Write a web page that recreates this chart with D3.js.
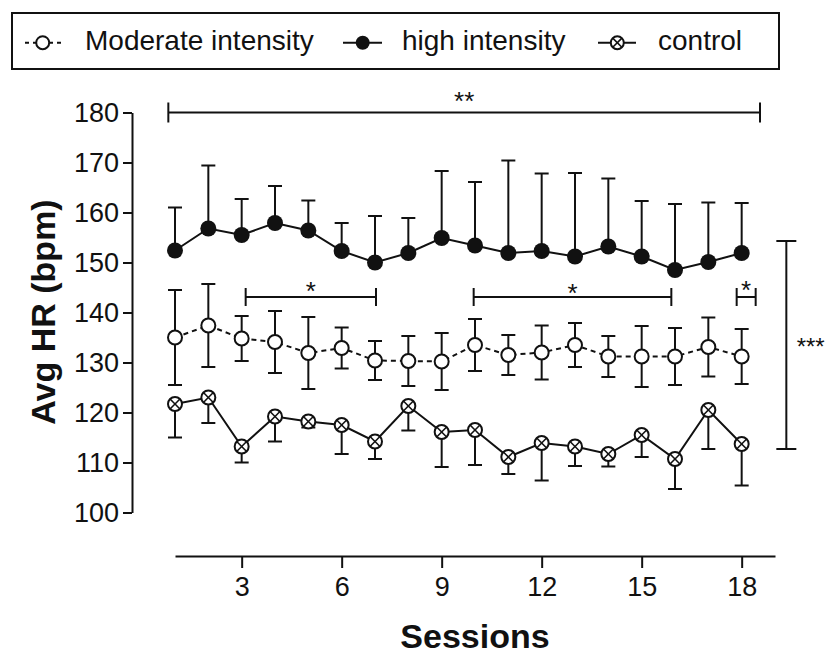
<!DOCTYPE html>
<html><head><meta charset="utf-8">
<script src="https://cdn.jsdelivr.net/npm/d3@7"></script>
<style>
html,body{margin:0;padding:0;background:#fff;}
svg{display:block;}
text{font-family:"Liberation Sans",Arial,sans-serif;fill:#111;}
</style></head><body>
<svg id="chart" width="826" height="655"></svg>
<script>
// ---------- data ----------
const sessions = [1,2,3,4,5,6,7,8,9,10,11,12,13,14,15,16,17,18];
const seriesNames = ["Moderate intensity", "high intensity", "control"];
const highMean = [152.4,156.8,155.5,157.9,156.4,152.3,150.0,151.9,154.9,153.4,151.9,152.3,151.2,153.2,151.2,148.5,150.1,151.9];
const highSD   = [8.6,12.6,7.2,7.4,6.0,5.6,9.3,7.0,13.4,12.7,18.5,15.5,16.7,13.6,11.1,13.2,11.9,10.0];
const modMean  = [135.0,137.4,134.8,134.1,131.9,132.9,130.4,130.3,130.2,133.5,131.5,132.0,133.5,131.2,131.2,131.2,133.1,131.2];
const modSD    = [9.5,8.3,4.5,6.2,7.2,4.1,3.9,5.0,5.7,5.2,4.0,5.4,4.4,4.1,6.1,5.7,5.9,5.5];
const ctrlMean = [121.7,123.0,113.2,119.2,118.2,117.5,114.2,121.3,116.1,116.5,111.1,113.9,113.2,111.7,115.5,110.7,120.5,113.7];
const ctrlSD   = [6.7,5.1,3.2,5.0,1.2,5.8,3.5,4.9,7.0,7.0,3.4,7.5,3.9,2.5,4.4,6.0,7.8,8.3];
const yTicks = [100,110,120,130,140,150,160,170,180];
const yMinorTicks = [102.5,105,107.5,112.5,115,117.5,122.5,125,127.5,132.5,135,137.5,142.5,145,147.5,152.5,155,157.5,162.5,165,167.5,172.5,175,177.5];
const xTicks = [3,6,9,12,15,18];
const xMinorTicks = [2,4,5,7,8,10,11,13,14,16,17,19];
const xDomain = [1,19];
const yDomain = [100,180];
// significance brackets (data units)
const hBrackets = [
  {from:0.8,  to:18.55, at:180,   label:"**", labelAt:183.5},
  {from:3.12, to:7.03,  at:143.1, label:"*",  labelAt:145.4},
  {from:9.96, to:15.89, at:143.1, label:"*",  labelAt:145.0},
  {from:17.85,to:18.42, at:143.1, label:"*",  labelAt:145.7}
];
const vBrackets = [
  {at:19.34, from:112.7, to:154.3, label:"***", labelX:19.65, labelAt:134.3}
];

// ---------- drawing ----------
const INK = "#111";
const svg = d3.select("#chart");
svg.append("rect").attr("width",826).attr("height",655).attr("fill","#fff");

const x = d3.scaleLinear().domain(xDomain).range([175,775]);
const y = d3.scaleLinear().domain(yDomain).range([512.5,112.5]);

// Y axis
const yAxisG = svg.append("g").attr("transform","translate(132,0)");
yAxisG.call(d3.axisLeft(y).tickValues(yMinorTicks).tickSize(5).tickSizeOuter(0).tickFormat(""));
yAxisG.call(d3.axisLeft(y).tickValues(yTicks).tickSize(9).tickSizeOuter(0).tickPadding(4).tickFormat(d3.format("d")));
yAxisG.selectAll("path,line").attr("stroke",INK).attr("stroke-width",2);
yAxisG.selectAll("text").attr("font-size",27).attr("fill",INK).attr("font-family","Liberation Sans, Arial, sans-serif");

// X axis
const xAxisG = svg.append("g").attr("transform","translate(0,556)");
xAxisG.call(d3.axisBottom(x).tickValues(xMinorTicks).tickSize(7).tickSizeOuter(0).tickFormat(""));
xAxisG.call(d3.axisBottom(x).tickValues(xTicks).tickSize(12).tickSizeOuter(0).tickPadding(9).tickFormat(d3.format("d")));
xAxisG.selectAll("path,line").attr("stroke",INK).attr("stroke-width",2);
xAxisG.selectAll("text").attr("font-size",27).attr("fill",INK).attr("font-family","Liberation Sans, Arial, sans-serif");

// Axis titles
svg.append("text").attr("transform","translate(55,312) rotate(-90)")
  .attr("text-anchor","middle").attr("font-size",34).attr("font-weight","bold").text("Avg HR (bpm)");
svg.append("text").attr("x",475).attr("y",648)
  .attr("text-anchor","middle").attr("font-size",34).attr("font-weight","bold").text("Sessions");

const idx = sessions.map((d,i)=>i);
const R = 7, CAP = 7;

function lineOf(mean){
  return d3.line().x(i=>x(sessions[i])).y(i=>y(mean[i]))(idx);
}
const gLines = svg.append("g");
gLines.append("path").attr("d",lineOf(modMean)).attr("fill","none").attr("stroke",INK).attr("stroke-width",2).attr("stroke-dasharray","5,4");
gLines.append("path").attr("d",lineOf(highMean)).attr("fill","none").attr("stroke",INK).attr("stroke-width",2);
gLines.append("path").attr("d",lineOf(ctrlMean)).attr("fill","none").attr("stroke",INK).attr("stroke-width",2);

// error bars
function errBars(mean, sd, up, down){
  const g = svg.append("g").attr("stroke",INK).attr("stroke-width",2);
  idx.forEach(i=>{
    const cx = x(sessions[i]);
    const top = up ? mean[i]+sd[i] : mean[i];
    const bot = down ? mean[i]-sd[i] : mean[i];
    g.append("line").attr("x1",cx).attr("x2",cx).attr("y1",y(top)).attr("y2",y(bot));
    if(up) g.append("line").attr("x1",cx-CAP).attr("x2",cx+CAP).attr("y1",y(top)).attr("y2",y(top));
    if(down) g.append("line").attr("x1",cx-CAP).attr("x2",cx+CAP).attr("y1",y(bot)).attr("y2",y(bot));
  });
}
errBars(modMean, modSD, true, true);
errBars(highMean, highSD, true, false);
errBars(ctrlMean, ctrlSD, false, true);

// markers
function marker(g, cx, cy, type, r){
  if(type==="open"){
    g.append("circle").attr("cx",cx).attr("cy",cy).attr("r",r).attr("fill","#fff").attr("stroke",INK).attr("stroke-width",2);
  } else if(type==="filled"){
    g.append("circle").attr("cx",cx).attr("cy",cy).attr("r",r+1).attr("fill",INK);
  } else {
    g.append("circle").attr("cx",cx).attr("cy",cy).attr("r",r).attr("fill","#fff").attr("stroke",INK).attr("stroke-width",2);
    const k = r*0.7071;
    g.append("line").attr("x1",cx-k).attr("y1",cy-k).attr("x2",cx+k).attr("y2",cy+k).attr("stroke",INK).attr("stroke-width",1.6);
    g.append("line").attr("x1",cx-k).attr("y1",cy+k).attr("x2",cx+k).attr("y2",cy-k).attr("stroke",INK).attr("stroke-width",1.6);
  }
}
const gM = svg.append("g");
idx.forEach(i=>marker(gM, x(sessions[i]), y(modMean[i]), "open", R));
idx.forEach(i=>marker(gM, x(sessions[i]), y(highMean[i]), "filled", R));
idx.forEach(i=>marker(gM, x(sessions[i]), y(ctrlMean[i]), "cross", R));

// brackets
const gB = svg.append("g");
hBrackets.forEach(b=>{
  const x1=x(b.from), x2=x(b.to), yy=y(b.at);
  const h = b.label==="**" ? 10 : 9;
  gB.append("line").attr("x1",x1).attr("x2",x2).attr("y1",yy).attr("y2",yy).attr("stroke",INK).attr("stroke-width",2);
  gB.append("line").attr("x1",x1).attr("x2",x1).attr("y1",yy-h).attr("y2",yy+h).attr("stroke",INK).attr("stroke-width",2);
  gB.append("line").attr("x1",x2).attr("x2",x2).attr("y1",yy-h).attr("y2",yy+h).attr("stroke",INK).attr("stroke-width",2);
  gB.append("text").attr("x",(x1+x2)/2).attr("y",y(b.labelAt)+14.8).attr("text-anchor","middle").attr("font-size",26).text(b.label);
});
vBrackets.forEach(b=>{
  const xx=x(b.at), y1=y(b.from), y2=y(b.to);
  gB.append("line").attr("x1",xx).attr("x2",xx).attr("y1",y1).attr("y2",y2).attr("stroke",INK).attr("stroke-width",2);
  gB.append("line").attr("x1",xx-10).attr("x2",xx+10).attr("y1",y1).attr("y2",y1).attr("stroke",INK).attr("stroke-width",2);
  gB.append("line").attr("x1",xx-10).attr("x2",xx+10).attr("y1",y2).attr("y2",y2).attr("stroke",INK).attr("stroke-width",2);
  gB.append("text").attr("x",x(b.labelX)).attr("y",y(b.labelAt)+13.7).attr("text-anchor","start").attr("font-size",24).text(b.label);
});

// legend
const gL = svg.append("g");
gL.append("rect").attr("x",12).attr("y",13).attr("width",767).attr("height",56).attr("fill","none").attr("stroke",INK).attr("stroke-width",2);
const legendItems = [
  {name:seriesNames[0], type:"open",   dash:"4,4", x1:25,  x2:62,  cx:42.7, tx:85},
  {name:seriesNames[1], type:"filled", dash:null,  x1:343, x2:382, cx:362.7, tx:402},
  {name:seriesNames[2], type:"cross",  dash:null,  x1:598, x2:636, cx:617.3, tx:658}
];
legendItems.forEach(it=>{
  const ln = gL.append("line").attr("x1",it.x1).attr("x2",it.x2).attr("y1",42.7).attr("y2",42.7).attr("stroke",INK).attr("stroke-width",2);
  if(it.dash) ln.attr("stroke-dasharray",it.dash);
  marker(gL, it.cx, 42.7, it.type, it.type==="filled"?6:6.5);
  gL.append("text").attr("x",it.tx).attr("y",49.5).attr("font-size",28).text(it.name);
});
</script>
</body></html>
